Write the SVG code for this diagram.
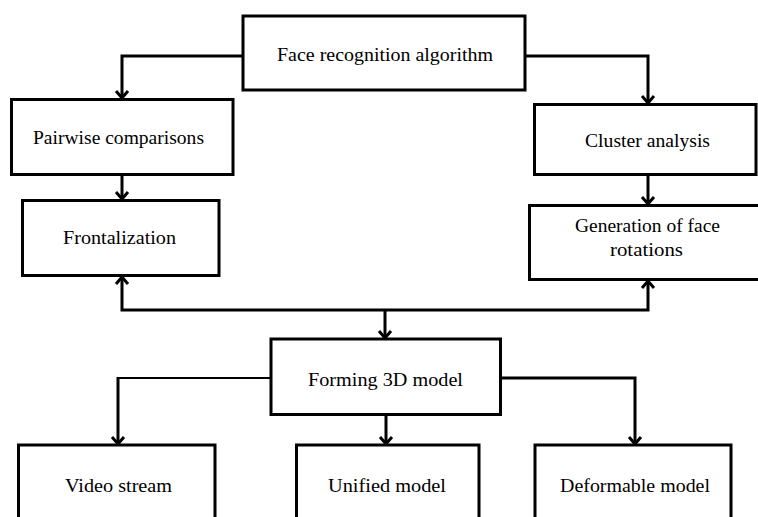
<svg xmlns="http://www.w3.org/2000/svg" width="758" height="517" viewBox="0 0 758 517">
<defs>
<style>
.box{fill:#fff;stroke:#000;stroke-width:3}
.ln{fill:none;stroke:#000;stroke-width:3}
.thin{fill:none;stroke:#000;stroke-width:2}
.t{font-family:"Liberation Serif","Times New Roman",serif;font-size:19px;fill:#000;text-anchor:middle}
</style>
<marker id="ah" markerUnits="userSpaceOnUse" markerWidth="14" markerHeight="16" refX="10" refY="8" orient="auto-start-reverse" viewBox="0 0 14 16" overflow="visible">
<path d="M3 2 L10 8 L3 14" fill="none" stroke="#000" stroke-width="3"/>
</marker>
</defs>
<rect width="758" height="517" fill="#fff"/>
<g id="connectors">
<path class="ln" d="M243 56 H122 V98" marker-end="url(#ah)"/>
<path class="ln" d="M525 56 H648 V103" marker-end="url(#ah)"/>
<path class="ln" d="M122 175 V199" marker-end="url(#ah)"/>
<path class="ln" d="M648 175 V204" marker-end="url(#ah)"/>
<path class="ln" d="M122 277 V310 H648 V281" marker-start="url(#ah)" marker-end="url(#ah)"/>
<path class="ln" d="M385 310 V338" marker-end="url(#ah)"/>
<path class="thin" d="M271 378 H118"/>
<path class="ln" d="M118 377 V444" marker-end="url(#ah)"/>
<path class="ln" d="M500 378 H635 V444" marker-end="url(#ah)"/>
<path class="ln" d="M386 415 V444" marker-end="url(#ah)"/>
</g>
<g id="n-face"><rect class="box" x="243" y="16" width="282" height="74"/><text class="t" x="385" y="61" textLength="216" lengthAdjust="spacingAndGlyphs">Face recognition algorithm</text></g>
<g id="n-pairwise"><rect class="box" x="11.5" y="99.5" width="221.5" height="75"/><text class="t" x="118.5" y="144" textLength="171" lengthAdjust="spacingAndGlyphs">Pairwise comparisons</text></g>
<g id="n-frontal"><rect class="box" x="22.5" y="200.5" width="196.5" height="75"/><text class="t" x="119.5" y="244" textLength="113" lengthAdjust="spacingAndGlyphs">Frontalization</text></g>
<g id="n-cluster"><rect class="box" x="534.5" y="104.5" width="221.5" height="70"/><text class="t" x="647.5" y="147" textLength="125" lengthAdjust="spacingAndGlyphs">Cluster analysis</text></g>
<g id="n-generation"><rect class="box" x="529.5" y="205.5" width="230" height="74"/><text class="t" x="647.5" y="232" textLength="145" lengthAdjust="spacingAndGlyphs">Generation of face</text><text class="t" x="646.5" y="256" textLength="73" lengthAdjust="spacingAndGlyphs">rotations</text></g>
<g id="n-forming"><rect class="box" x="271" y="339" width="229.5" height="75.5"/><text class="t" x="385.5" y="386" textLength="155" lengthAdjust="spacingAndGlyphs">Forming 3D model</text></g>
<g id="n-video"><rect class="box" x="18.5" y="445" width="196.5" height="80"/><text class="t" x="118.5" y="492" textLength="107" lengthAdjust="spacingAndGlyphs">Video stream</text></g>
<g id="n-unified"><rect class="box" x="296.5" y="445" width="182.5" height="80"/><text class="t" x="387" y="492" textLength="118" lengthAdjust="spacingAndGlyphs">Unified model</text></g>
<g id="n-deformable"><rect class="box" x="535" y="445" width="196" height="80"/><text class="t" x="635" y="492" textLength="150" lengthAdjust="spacingAndGlyphs">Deformable model</text></g>
</svg>
